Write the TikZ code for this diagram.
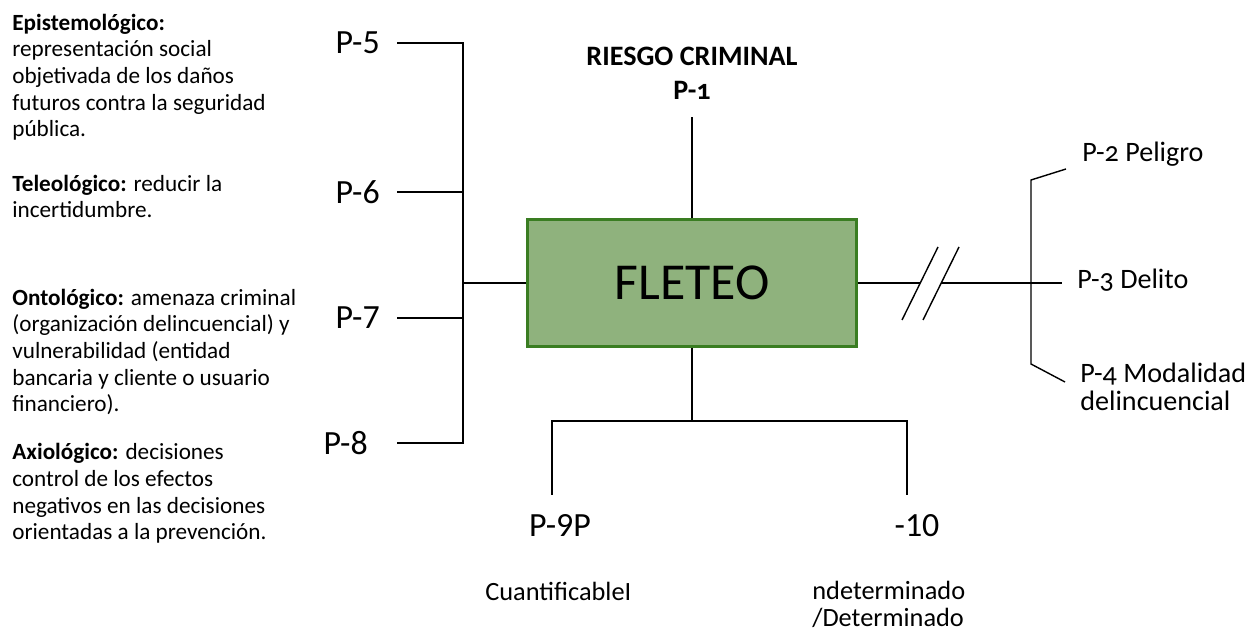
\documentclass[tikz,border=0pt]{standalone}
\usepackage{fontspec}
\setmainfont{Carlito}
\newfontfamily\oldnum{Carlito}[Numbers=OldStyle]
\usepackage{tikz}

\definecolor{boxfill}{RGB}{143,178,125}
\definecolor{boxline}{RGB}{58,125,34}

\tikzset{
  box/.style={draw=boxline,line width=1.4pt,fill=boxfill,minimum width=6.58cm,
    minimum height=2.54cm,inner sep=0pt,font=\fontsize{29.5}{32}\selectfont},
  plab/.style={font=\fontsize{19.3}{23}\selectfont,inner ysep=0pt},
  rlab/.style={font=\oldnum\fontsize{16}{16.5}\selectfont,align=left,inner sep=0pt},
  note/.style={font=\fontsize{13.2}{15.2}\selectfont,align=left,inner sep=0pt,anchor=base west},
  blab/.style={font=\fontsize{15}{14.8}\selectfont,align=left,inner sep=0pt,anchor=base west},
  link/.style={line width=0.8pt}
}

\begin{document}
\begin{tikzpicture}[x=0.02cm,y=-0.02cm]
\useasboundingbox (0,0) rectangle (1254,634);

\node[note] (epis) at (12,137) {\textbf{Epistemológico:}\\representación social\\objetivada de los daños\\futuros contra la seguridad\\pública.};
\node[note] (teleo) at (12,218) {\textbf{Teleológico:} reducir la\\incertidumbre.};
\node[note] (onto) at (12,412) {\textbf{Ontológico:} amenaza criminal\\(organización delincuencial) y\\vulnerabilidad (entidad\\bancaria y cliente o usuario\\financiero).};
\node[note] (axio) at (12,540) {\textbf{Axiológico:} decisiones\\control de los efectos\\negativos en las decisiones\\orientadas a la prevención.};

\node[box] (fleteo) at (692,283) {FLETEO};

\node[font=\bfseries\fontsize{16}{18}\selectfont,inner sep=0pt,anchor=base] (riesgo) at (692,66) {RIESGO CRIMINAL};
\node[font=\oldnum\bfseries\fontsize{16}{18}\selectfont,inner xsep=0pt,inner ysep=0.34cm,anchor=base] (p1) at (692,100) {P-1};
\draw[link] (fleteo) -- (p1);

\node[plab,inner xsep=0.34cm,anchor=east] (p5) at (397,43) {P-5};
\node[plab,inner xsep=0.34cm,anchor=east] (p6) at (397,192) {P-6};
\node[plab,inner xsep=0.34cm,anchor=east] (p7) at (397,318) {P-7};
\node[plab,inner xsep=0.58cm,anchor=east] (p8) at (397,443) {P-8};
\coordinate (j5) at (463,43);
\coordinate (j6) at (463,192);
\coordinate (j7) at (463,318);
\coordinate (j8) at (463,443);
\coordinate (jl) at (463,283);
\draw[link] (p5.east) -- (j5) -- (j8) -- (p8.east);
\draw[link] (p6.east) -- (j6);
\draw[link] (p7.east) -- (j7);
\draw[link] (jl) -- (fleteo.west);

\node[rlab,anchor=base west] (p2) at (1082,162) {P-2 Peligro};
\node[rlab,inner xsep=0.3cm,anchor=base west] (p3) at (1062,289) {P-3 Delito};
\node[rlab,anchor=base west] (p4) at (1080,411) {P-4 Modalidad\\delincuencial};
\coordinate (r2) at (1031,180);
\coordinate (r3) at (1031,283);
\coordinate (r4) at (1031,364);
\coordinate (d2) at (1066,169);
\coordinate (d4) at (1065,382);
\coordinate (g1) at (920,283);
\coordinate (g2) at (941,283);
\draw[link] (d2) -- (r2) -- (r4) -- (d4);
\draw[link] (fleteo.east) -- (g1);
\draw[link] (g2) -- (r3) -- (r3 -| p3.west);
\draw[link] (g1) ++(-18,37) -- ++(36,-73);
\draw[link] (g2) ++(-18,37) -- ++(36,-73);

\node[plab,inner xsep=0pt,inner ysep=0.4cm,anchor=base] (p9) at (560,537) {P-9P};
\node[plab,inner xsep=0pt,inner ysep=0.4cm,anchor=base] (p10) at (917,537) {-10};
\coordinate (jb) at (692,421);
\coordinate (l9) at (552,421);
\coordinate (l10) at (907,421);
\draw[link] (fleteo) -- (jb);
\draw[link] (l9 |- p9.north) -- (l9) -- (l10) -- (l10 |- p10.north);

\node[blab] (cuant) at (485,600) {CuantificableI};
\node[blab] (deter) at (812,626) {ndeterminado\\/Determinado};
\end{tikzpicture}
\end{document}
